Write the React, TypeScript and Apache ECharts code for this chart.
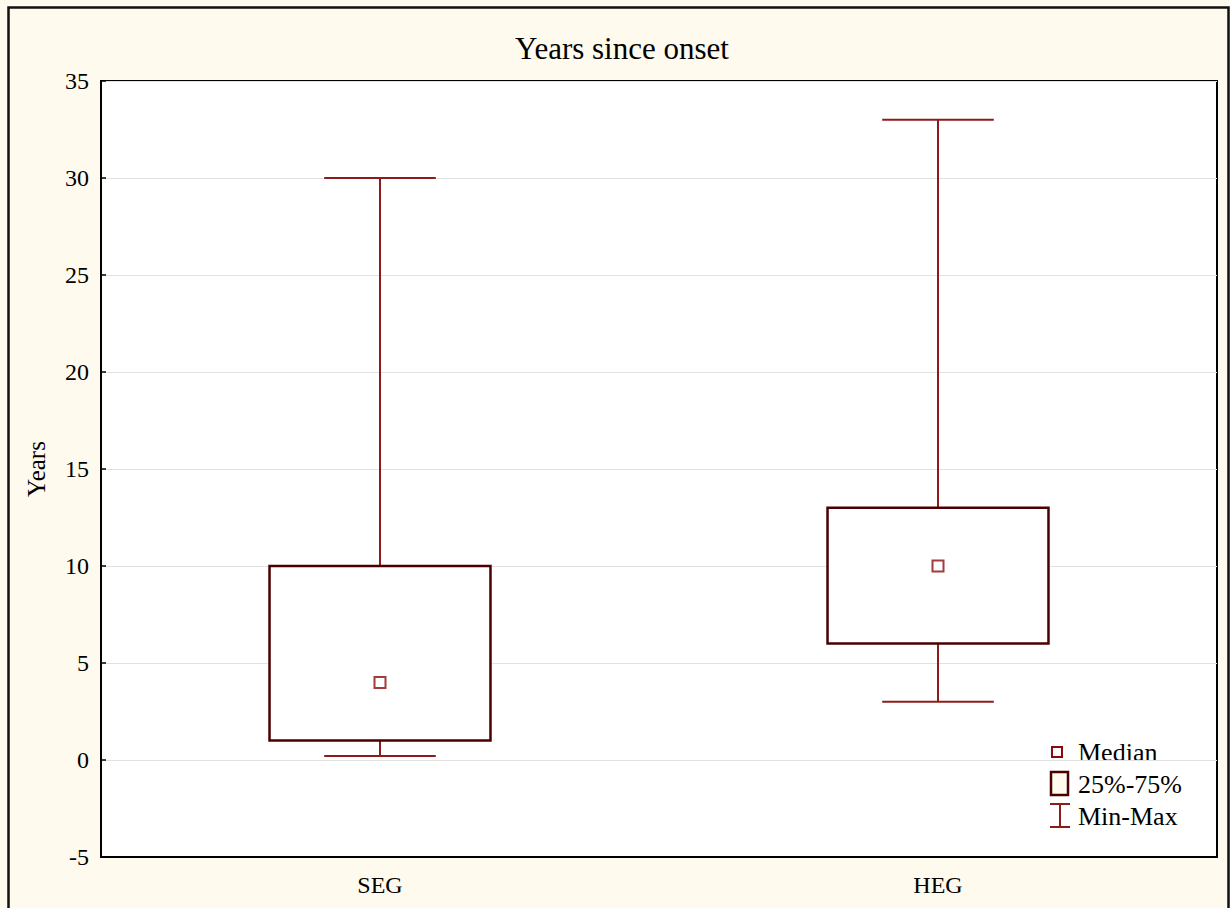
import React, { useEffect, useRef } from "react";
import * as echarts from "echarts";

const categories = ["SEG", "HEG"];
// [min, q1, median, q3, max]
const boxStats = [
  [0.2, 1, 4, 10, 30],
  [3, 6, 10, 13, 33],
];
const medians = [4, 10];
const yTicks = { min: -5, max: 35, interval: 5 };
const legendLabels = ["Median", "25%-75%", "Min-Max"];

const FONT = "'Liberation Serif', 'Times New Roman', serif";
const WHISKER = "#8e1b1b";
const BOXLINE = "#4a0000";
const MEDIAN = "#8b0a0a";
const CREAM = "#fffaee";

export default function App() {
  const ref = useRef<HTMLDivElement>(null);
  useEffect(() => {
    if (!ref.current) return;
    const chart = echarts.init(ref.current, null, { renderer: "svg" });
    const customData = boxStats.map((s, i) => [i, ...s]);
    chart.setOption({
      animation: false,
      backgroundColor: CREAM,
      title: {
        text: "Years since onset",
        left: 617,
        top: 28,
        textAlign: "center",
        textStyle: { fontFamily: FONT, fontSize: 31, fontWeight: "normal", color: "#000" },
      },
      grid: {
        left: 101,
        top: 81,
        right: 13,
        bottom: 51,
        show: true,
        backgroundColor: "#fff",
        borderColor: "#000",
        borderWidth: 2,
      },
      xAxis: {
        type: "category",
        data: categories,
        boundaryGap: true,
        axisLine: { show: true, onZero: false, lineStyle: { color: "#000", width: 2 } },
        axisTick: { show: false },
        splitLine: { show: false },
        axisLabel: { fontFamily: FONT, fontSize: 24, color: "#000", margin: 16 },
      },
      yAxis: {
        type: "value",
        min: yTicks.min,
        max: yTicks.max,
        interval: yTicks.interval,
        name: "Years",
        nameLocation: "middle",
        nameGap: 52,
        nameTextStyle: { fontFamily: FONT, fontSize: 25, color: "#000" },
        axisLine: { show: true, lineStyle: { color: "#000", width: 2 } },
        axisTick: { show: true, inside: true, length: 5, lineStyle: { color: "#000", width: 1.5 } },
        splitLine: { show: true, lineStyle: { color: "#e2e2e2", width: 1 } },
        axisLabel: { fontFamily: FONT, fontSize: 24, color: "#000", margin: 12 },
      },
      series: [
        {
          type: "custom",
          data: customData,
          encode: { x: 0, y: [1, 2, 3, 4, 5] },
          z: 2,
          renderItem: (params: any, api: any) => {
            const idx = api.value(0);
            const vMin = api.value(1);
            const q1 = api.value(2);
            const q3 = api.value(4);
            const vMax = api.value(5);
            const band = api.size([1, 0])[0];
            const cx = api.coord([idx, 0])[0];
            const yMin = api.coord([idx, vMin])[1];
            const yQ1 = api.coord([idx, q1])[1];
            const yQ3 = api.coord([idx, q3])[1];
            const yMax = api.coord([idx, vMax])[1];
            const bw = band * 0.396;
            const cw = band * 0.2;
            const ws = { stroke: WHISKER, lineWidth: 2 };
            return {
              type: "group",
              children: [
                { type: "line", shape: { x1: cx, y1: yMax, x2: cx, y2: yQ3 }, style: ws },
                { type: "line", shape: { x1: cx, y1: yQ1, x2: cx, y2: yMin }, style: ws },
                { type: "line", shape: { x1: cx - cw / 2, y1: yMax, x2: cx + cw / 2, y2: yMax }, style: ws },
                { type: "line", shape: { x1: cx - cw / 2, y1: yMin, x2: cx + cw / 2, y2: yMin }, style: ws },
                {
                  type: "rect",
                  shape: { x: cx - bw / 2, y: yQ3, width: bw, height: yQ1 - yQ3 },
                  style: { fill: "#fff", stroke: BOXLINE, lineWidth: 2.5 },
                },
              ],
            };
          },
        },
        {
          type: "scatter",
          data: medians,
          symbol: "rect",
          symbolSize: 11,
          z: 3,
          itemStyle: { color: "#fff", borderColor: MEDIAN, borderWidth: 2 },
        },
      ],
      graphic: [
        {
          type: "rect",
          shape: { x: 8.5, y: 7.5, width: 1220, height: 930 },
          style: { fill: "none", stroke: "#111", lineWidth: 2.5 },
          silent: true,
        },
        {
          type: "rect",
          shape: { x: 1052, y: 747, width: 10, height: 10 },
          style: { fill: "#fff", stroke: MEDIAN, lineWidth: 2 },
        },
        {
          type: "rect",
          shape: { x: 1051, y: 772, width: 17, height: 23 },
          style: { fill: CREAM, stroke: BOXLINE, lineWidth: 2.5 },
        },
        { type: "line", shape: { x1: 1060, y1: 804, x2: 1060, y2: 827 }, style: { stroke: WHISKER, lineWidth: 2 } },
        { type: "line", shape: { x1: 1050, y1: 804, x2: 1070, y2: 804 }, style: { stroke: WHISKER, lineWidth: 2 } },
        { type: "line", shape: { x1: 1050, y1: 827, x2: 1070, y2: 827 }, style: { stroke: WHISKER, lineWidth: 2 } },
        ...legendLabels.map((t, i) => ({
          type: "text",
          x: 1078,
          y: 752 + i * 32,
          style: {
            text: t,
            fontFamily: FONT,
            fontSize: 26,
            fill: "#000",
            verticalAlign: "middle",
            textAlign: "left",
          },
        })),
      ],
    });
    return () => chart.dispose();
  }, []);
  return (
    <div
      ref={ref}
      style={{ position: "absolute", left: 0, top: 0, width: 1230, height: 908 }}
    />
  );
}
